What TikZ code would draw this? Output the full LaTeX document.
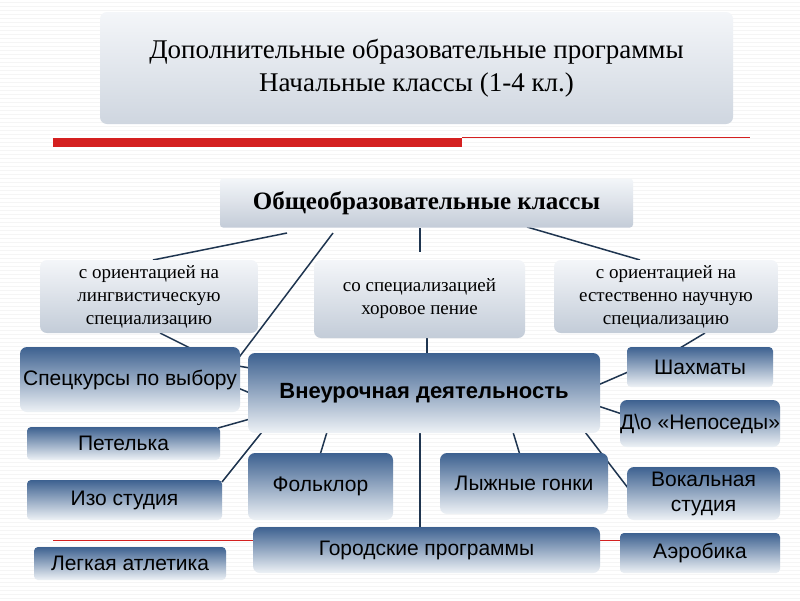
\documentclass[tikz,border=0pt]{standalone}
\usepackage{fontspec}
\setmainfont{Liberation Serif}
\setsansfont{Liberation Sans}
\begin{document}
\begin{tikzpicture}[x=1pt,y=-1pt,
  bx/.style={rounded corners=7pt,top color=blu,bottom color=lite,draw=none,align=center,inner sep=0pt,font=\sffamily\fontsize{21}{25}\selectfont},
  gx/.style={rounded corners=7pt,top color=gtop,bottom color=gbot,draw=none,align=center,inner sep=0pt,font=\fontsize{19}{23}\selectfont},
  ln/.style={draw=lin,line width=1.5pt}]
\definecolor{blu}{HTML}{3D6190}
\definecolor{lite}{HTML}{EEF2F6}
\definecolor{gtop}{HTML}{F4F6F9}
\definecolor{gbot}{HTML}{C3CCD8}
\definecolor{lin}{HTML}{1F3550}
\definecolor{rd}{HTML}{D42020}
\useasboundingbox (0,0) rectangle (800,600);
\fill[white] (0,0) rectangle (800,600);
\foreach \y in {2,6,...,598} \draw[black!4,line width=0.6pt] (0,\y) -- (800,\y);
% connectors
\draw[ln] (287,233) -- (153,260);
\draw[ln] (333,233) -- (237,360);
\draw[ln] (420,228) -- (420,252);
\draw[ln] (527,227) -- (640,260);
\draw[ln] (160,333) -- (190,348);
\draw[ln] (427,338) -- (427,354);
\draw[ln] (705,333) -- (680,348);
\draw[ln] (238,366) -- (250,368);
\draw[ln] (238,388) -- (250,393);
\draw[ln] (218,428) -- (250,419);
\draw[ln] (222,482) -- (262,432);
\draw[ln] (327,432) -- (320,455);
\draw[ln] (513,432) -- (520,455);
\draw[ln] (420,432) -- (420,528);
\draw[ln] (598,385) -- (628,372);
\draw[ln] (598,406) -- (622,414);
\draw[ln] (585,432) -- (628,488);
\draw[rd,line width=0.6pt] (53,540) -- (253,540);
\draw[rd,line width=0.6pt] (600,540) -- (640,540);
% title
\node[gx,minimum width=633,minimum height=112,font=\fontsize{27}{33}\selectfont,top color=gtop,bottom color=gbot!80] (t) at (416.5,68) {Дополнительные образовательные программы\\Начальные классы (1-4 кл.)};
\fill[rd] (53,138) rectangle (462,147);
\draw[rd,line width=0.6pt] (462,137) -- (750,137);
\node[gx,minimum width=413,minimum height=49,font=\bfseries\fontsize{25}{29}\selectfont,rounded corners=3pt] (o) at (426.5,203) {Общеобразовательные классы};
\node[gx,minimum width=218,minimum height=73] (l) at (149,296.5) {с ориентацией на\\лингвистическую\\специализацию};
\node[gx,minimum width=211,minimum height=78] (m) at (419.5,299) {со специализацией\\хоровое пение};
\node[gx,minimum width=224,minimum height=73] (r) at (666,296.5) {с ориентацией на\\естественно научную\\специализацию};
\node[bx,minimum width=352,minimum height=80,font=\sffamily\bfseries\fontsize{22}{26}\selectfont] (v) at (424,393) {Внеурочная деятельность};
\node[bx,minimum width=220,minimum height=65] (s) at (130,379.5) {Спецкурсы по выбору};
\node[bx,minimum width=193,minimum height=33,rounded corners=4pt] (p) at (123.5,443.5) {Петелька};
\node[bx,minimum width=195,minimum height=40,rounded corners=4pt] (i) at (124.5,500) {Изо студия};
\node[bx,minimum width=192,minimum height=33,rounded corners=4pt] (a) at (130,563.5) {Легкая атлетика};
\node[bx,minimum width=145,minimum height=67] (f) at (320.5,486.5) {Фольклор};
\node[bx,minimum width=168,minimum height=61] (g) at (524,483.5) {Лыжные гонки};
\node[bx,minimum width=347,minimum height=46] (c) at (426.5,550) {Городские программы};
\node[bx,minimum width=146,minimum height=40,rounded corners=4pt] (sh) at (700,367) {Шахматы};
\node[bx,minimum width=160,minimum height=47] (d) at (700,423.5) {Д\textbackslash о «Непоседы»};
\node[bx,minimum width=153,minimum height=53] (vo) at (703.5,493.5) {Вокальная\\студия};
\node[bx,minimum width=160,minimum height=40,rounded corners=4pt] (ae) at (700,553) {Аэробика};
\end{tikzpicture}
\end{document}
